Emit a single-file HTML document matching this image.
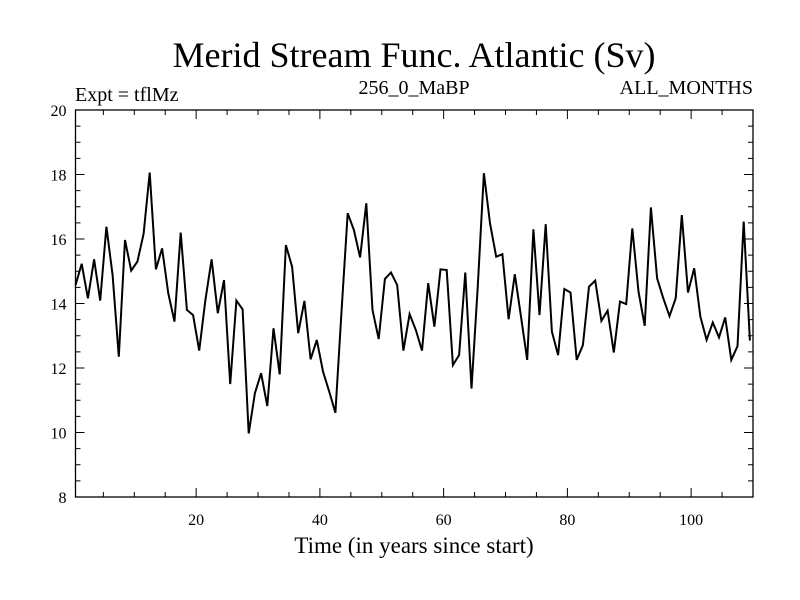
<!DOCTYPE html>
<html><head><meta charset="utf-8"><style>
body{margin:0;background:#fff}
svg{display:block;font-family:"Liberation Serif",serif}
</style></head><body>
<svg id="chart" width="800" height="600" viewBox="0 0 800 600">
<text x="414" y="67" font-size="36" text-anchor="middle">Merid Stream Func. Atlantic (Sv)</text>
<text x="75" y="101" font-size="20">Expt = tflMz</text>
<text x="414" y="94" font-size="20" text-anchor="middle">256_0_MaBP</text>
<text x="753" y="94" font-size="20" text-anchor="end">ALL_MONTHS</text>
<text x="414" y="553" font-size="23" text-anchor="middle">Time (in years since start)</text>
<g id="ticks"></g>
<path id="line" fill="none" stroke="#000" stroke-width="2" stroke-linejoin="miter"/>
<rect x="75.5" y="110" width="677.5" height="387" fill="none" stroke="#000" stroke-width="1.3"/>
</svg>
<script>
const values = [14.57,15.23,14.16,15.37,14.09,16.38,14.88,12.35,15.97,15.02,15.30,16.16,18.06,15.06,15.71,14.31,13.44,16.20,13.80,13.64,12.54,14.11,15.37,13.70,14.73,11.50,14.09,13.82,9.97,11.22,11.84,10.82,13.23,11.80,15.81,15.14,13.08,14.08,
12.27,12.87,11.89,11.27,10.61,13.8,16.80,16.28,15.43,17.11,13.80,12.90,14.76,14.96,14.57,12.54,13.67,13.18,12.54,14.63,13.28,15.06,15.04,12.09,12.40,14.96,11.36,14.5,18.04,16.49,15.45,15.53,13.51,14.91,13.59,12.25,16.30,
13.64,16.46,13.13,12.40,14.45,14.34,12.25,12.71,14.52,14.71,13.46,13.78,12.48,14.06,13.98,16.33,14.37,13.31,16.98,14.78,14.16,13.61,14.16,16.74,14.34,15.09,13.59,12.87,13.41,12.95,13.57,12.25,12.68,16.54,12.85];
const yTickLabels = [8,10,12,14,16,18,20];
const xTickLabels = [20,40,60,80,100];
const xDomain = [0.5,110];
const yDomain = [8,20];
const L=75.5,R=753,T=110,B=497;
const sx=v=>L+(v-xDomain[0])/(xDomain[1]-xDomain[0])*(R-L);
const sy=v=>B-(v-yDomain[0])/(yDomain[1]-yDomain[0])*(B-T);
const NS='http://www.w3.org/2000/svg';
const g=document.getElementById('ticks');
function ln(x1,y1,x2,y2){const l=document.createElementNS(NS,'line');l.setAttribute('x1',x1);l.setAttribute('y1',y1);l.setAttribute('x2',x2);l.setAttribute('y2',y2);l.setAttribute('stroke','#000');l.setAttribute('stroke-width','1');


g.appendChild(l);}
function tx(x,y,s,a,name){const t=document.createElementNS(NS,'text');t.setAttribute('x',x);t.setAttribute('y',y);t.setAttribute('font-size','16');t.setAttribute('text-anchor',a);t.textContent=s;


g.appendChild(t);}
for(let v=8;v<=20.001;v+=0.5){const y=sy(v);const major=Math.abs(v%2)<1e-6;const len=major?9:5;ln(L,y,L+len,y);ln(R,y,R-len,y);}
yTickLabels.forEach(v=>tx(L-9,sy(v)+6,String(v),'end','y-tick-label'));
for(let v=5;v<=110;v+=5){const x=sx(v);const major=v%20===0;const len=major?9:5;ln(x,B,x,B-len);ln(x,T,x,T+len);}
xTickLabels.forEach(v=>tx(sx(v),525,String(v),'middle','x-tick-label'));
const d=values.map((v,i)=>(i?'L':'M')+sx(i+0.5).toFixed(1)+','+sy(v).toFixed(1)).join('');
document.getElementById('line').setAttribute('d',d);
</script>
</body></html>
